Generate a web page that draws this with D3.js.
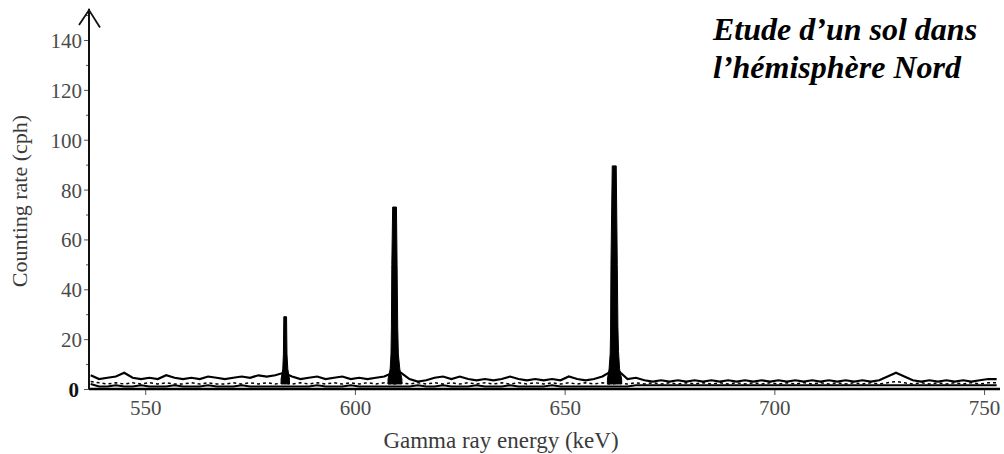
<!DOCTYPE html>
<html><head>
<meta charset="utf-8">
<script src="https://d3js.org/d3.v7.min.js"></script>
<style>
  body { margin: 0; background: #fff; }
  .tick text { font-family: "Liberation Serif", "DejaVu Serif", serif; fill: #4a4a4a; }
  .tick line { stroke: #555; }
  .domain { display: none; }
</style>
</head>
<body>
<svg id="spectrum" width="1004" height="454"></svg>
<script>
// Gamma spectrum, soil sample

// background continuum, upper and lower edges of the noisy band (counts per hour)
const bgEnergy = [537,539,541,543,545,547,549,551,553,555,557,559,561,563,565,567,569,571,573,575,
  577,579,581,583,585,587,589,591,593,595,597,599,601,603,605,607,609,611,613,615,
  617,619,621,623,625,627,629,631,633,635,637,639,641,643,645,647,649,651,653,655,
  657,659,661,663,665,667,669,671,673,675,677,679,681,683,685,687,689,691,693,695,
  697,699,701,703,705,707,709,711,713,715,717,719,721,723,725,727,729,731,733,735,
  737,739,741,743,745,747,749,751,753];
const bgUpper = [5.5,4,4.5,5,6.5,4.5,4,4.5,4,5.5,4.5,4,4.5,4,5,4.5,4,4.5,5,4.5,
  5.5,5,5.5,6.5,5,4,4.5,5,4,4.5,5,4,4.5,4,4.5,5,6.5,6.5,4,3,
  3.5,4.5,5,4,5,4,3.5,4,3.5,4,5,4,3.5,4,3.5,4,3.5,5,4,3.5,
  4,5,7,7,4,4.5,3.5,3,3.5,3,3.5,3,3.5,3,3.5,3,3.5,3,3.5,3,
  3.5,3,3.5,3,3.5,3,3.5,3,3.5,3,3.5,3,3.5,3,3.5,5,6.5,5,3.5,3,
  3.5,3,3.5,3,3.5,3,3.5,4,4];
const bgMiddle = [3,2.5,2,2.5,2,2.5,2,2.5,2,2.5,2,2,2.5,2,2.5,2,2,2.5,2,2.5,
  2,2.5,2,2.5,2,2.5,2,2.5,2,2.5,2,2.5,2,2.5,2,2.5,2,2.5,2,2.5,
  2,2.5,2,2.5,2,2.5,2,2.5,2,2.5,2,2.5,2,2.5,2,2.5,2,2.5,2,2.5,
  2,2.5,2,2.5,2,2.5,2,2.5,2,2.5,2,2.5,2,2.5,2,2.5,2,2.5,2,2.5,
  2,2.5,2,2.5,2,2.5,2,2.5,2,2.5,2,2.5,2,2.5,2,2.5,3,2.5,2,2.5,
  2,2.5,2,2.5,2,2.5,2,2.5,2.5];
const bgLower = [2,1,1,1.5,1,1,1.5,1,1,1,1.5,1,1,1,1.5,1,1,1,1.5,1,
  1,1,1,1,1,1,1,1.5,1,1,1,1.5,1,1,1,1,1,1,1,1.5,
  1,1,1.5,1,1,1,1.5,1,1,1,1.5,1,1,1,1,1.5,1,1,1,1,
  1,1,1,1,1,1.5,1.5,1.5,1.5,1.5,1.5,1.5,1.5,1.5,1.5,1.5,1.5,1.5,1.5,1.5,
  1.5,1.5,1.5,1.5,1.5,1.5,1.5,1.5,1.5,1.5,1.5,1.5,1.5,1.5,1.5,1.5,1.5,1.5,1.5,1.5,
  1.5,1.5,1.5,1.5,1.5,1.5,1.5,1.5,1.5];

// the three photopeaks (583, 609, 662 keV)
const peak1Energy = [582.4,582.8,582.95,583.05,583.7,583.8,584.0,584.4];
const peak1Count  = [4,8,14,29,29,14,8,4];
const peak2Energy = [607.9,608.4,608.6,608.7,608.8,609.0,609.9,610.05,610.2,610.35,610.7,611.2];
const peak2Count  = [4,8,14,25,50,73,73,50,25,14,8,4];
const peak3Energy = [660.2,660.6,660.85,660.95,661.05,661.35,662.3,662.55,662.7,662.85,663.1,663.6];
const peak3Count  = [4,8,14,22,50,89.5,89.5,50,25,15,8,4];

const xTicks = [550,600,650,700,750];
const yTicks = [0,20,40,60,80,100,120,140];
const yMinor = [10,30,50,70,90,110,130,150];

const svg = d3.select("svg#spectrum");
const margins = {top: 10, right: 4, bottom: 65, left: 89};
const x = d3.scaleLinear().domain([536.6, 753.8]).range([margins.left, 1000]);
const y = d3.scaleLinear().domain([0, 140]).range([389, 40]);

// axes
svg.append("g")
  .attr("transform", "translate(0,389)")
  .call(d3.axisBottom(x).tickValues(xTicks).tickSize(6).tickPadding(5))
  .selectAll("text").style("font-size", "21px");

const yAxis = svg.append("g")
  .attr("transform", "translate(" + margins.left + ",0)")
  .call(d3.axisLeft(y).tickValues(yTicks).tickSize(5).tickPadding(2));
yAxis.selectAll("text").style("font-size", "21px").attr("dy", "0.36em");
yAxis.selectAll(".tick").filter(d => d === 0).select("text")
  .style("font-weight", "bold").style("fill", "#111").attr("x", -10);

svg.append("g")
  .attr("transform", "translate(" + margins.left + ",0)")
  .call(d3.axisLeft(y).tickValues(yMinor).tickSize(3).tickFormat(""));

// axis lines + arrow
svg.append("line")
  .attr("x1", x(536.6)).attr("x2", x(753.8))
  .attr("y1", y(0)).attr("y2", y(0))
  .attr("stroke", "#000").attr("stroke-width", 2.5);
svg.append("line")
  .attr("x1", margins.left).attr("x2", margins.left)
  .attr("y1", y(0)).attr("y2", y(152.5))
  .attr("stroke", "#111").attr("stroke-width", 2);
svg.append("path")
  .attr("d", d3.line()([[margins.left - 10, y(146)], [margins.left, y(152)], [margins.left + 11, y(145)]]))
  .attr("fill", "none").attr("stroke", "#111").attr("stroke-width", 1.8);

// background band
const bgLine = (vals) => d3.line()
  .x((d, i) => x(bgEnergy[i]))
  .y(d => y(d))(vals);

svg.append("path").attr("d", bgLine(bgLower))
  .attr("fill", "none").attr("stroke", "#000").attr("stroke-width", 2);
svg.append("path").attr("d", bgLine(bgMiddle))
  .attr("fill", "none").attr("stroke", "#000").attr("stroke-width", 1.5)
  .attr("stroke-dasharray", "3,3");
svg.append("path").attr("d", bgLine(bgUpper))
  .attr("fill", "none").attr("stroke", "#000").attr("stroke-width", 2.2);

// peaks
const peakArea = d3.area()
  .x(d => x(d[0]))
  .y0(y(2))
  .y1(d => y(d[1]));
[[peak1Energy, peak1Count], [peak2Energy, peak2Count], [peak3Energy, peak3Count]].forEach(p => {
  svg.append("path")
    .attr("d", peakArea(p[0].map((e, i) => [e, p[1][i]])))
    .attr("fill", "#000").attr("stroke", "#000").attr("stroke-width", 1);
});

// axis titles
svg.append("text")
  .attr("x", 501).attr("y", 448)
  .attr("text-anchor", "middle")
  .style("font-family", "Liberation Serif, serif").style("font-size", "23px").style("fill", "#3a3a3a")
  .text("Gamma ray energy (keV)");
svg.append("text")
  .attr("transform", "translate(27,201) rotate(-90)")
  .attr("text-anchor", "middle")
  .style("font-family", "Liberation Serif, serif").style("font-size", "22px").style("fill", "#3a3a3a")
  .text("Counting rate (cph)");

// annotation
const note = svg.append("text")
  .style("font-family", "Liberation Serif, serif").style("font-size", "32px")
  .style("font-weight", "bold").style("font-style", "italic").style("fill", "#000");
note.append("tspan").attr("x", 713).attr("y", 40).text("Etude d’un sol dans");
note.append("tspan").attr("x", 713).attr("y", 78).text("l’hémisphère Nord");
</script>
</body>
</html>
